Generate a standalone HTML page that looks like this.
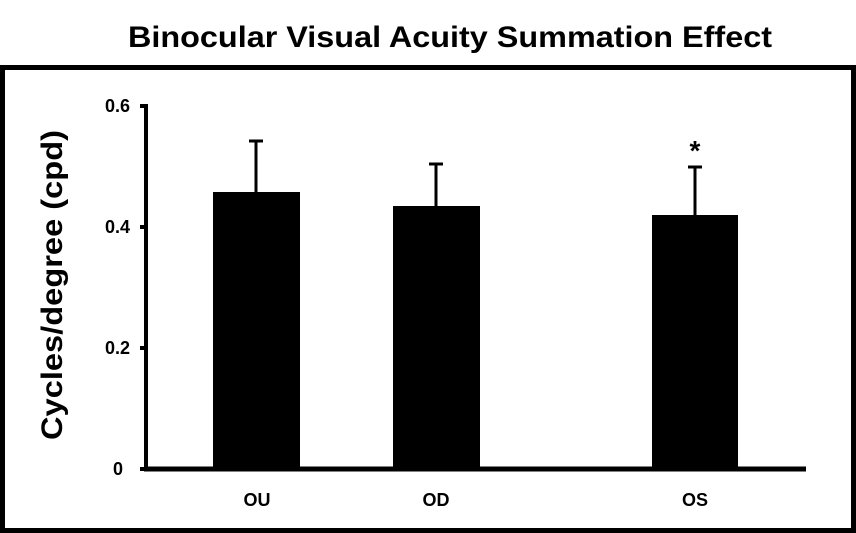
<!DOCTYPE html>
<html><head><style>
body{margin:0;background:#fff;}
svg{display:block;font-family:"Liberation Sans",sans-serif;font-weight:bold;}
</style></head><body>
<svg width="856" height="533" viewBox="0 0 856 533">
<rect width="856" height="533" fill="#fff"/>
<text x="450" y="47" text-anchor="middle" font-size="30" textLength="644" lengthAdjust="spacingAndGlyphs">Binocular Visual Acuity Summation Effect</text>
<rect x="2.5" y="67.5" width="851" height="463" fill="none" stroke="#000" stroke-width="5"/>
<line x1="146" y1="104" x2="146" y2="471" stroke="#000" stroke-width="4"/>
<line x1="144" y1="469" x2="806" y2="469" stroke="#000" stroke-width="5"/>
<g stroke="#000" stroke-width="4">
<line x1="140" y1="106" x2="146" y2="106"/><line x1="140" y1="227" x2="146" y2="227"/>
<line x1="140" y1="348" x2="146" y2="348"/><line x1="140" y1="469" x2="146" y2="469"/>
</g>
<g font-size="18" text-anchor="end">
<text x="130" y="112">0.6</text><text x="130" y="233">0.4</text><text x="130" y="354">0.2</text><text x="123" y="475">0</text>
</g>
<text transform="translate(62,285) rotate(-90)" text-anchor="middle" font-size="30" textLength="310" lengthAdjust="spacingAndGlyphs">Cycles/degree (cpd)</text>
<g fill="#000">
<rect x="213" y="192" width="87" height="278"/>
<rect x="393" y="206" width="87" height="264"/>
<rect x="652" y="215" width="86" height="255"/>
</g>
<g stroke="#000" stroke-width="3">
<line x1="256" y1="141" x2="256" y2="192"/><line x1="249" y1="141" x2="263" y2="141"/>
<line x1="436" y1="164" x2="436" y2="206"/><line x1="429" y1="164" x2="443" y2="164"/>
<line x1="695" y1="167" x2="695" y2="215"/><line x1="688" y1="167" x2="702" y2="167"/>
</g>
<text x="695" y="160" text-anchor="middle" font-size="28">*</text>
<g font-size="18" text-anchor="middle">
<text x="257" y="506">OU</text><text x="436" y="506">OD</text><text x="695" y="506">OS</text>
</g>
</svg>
</body></html>
